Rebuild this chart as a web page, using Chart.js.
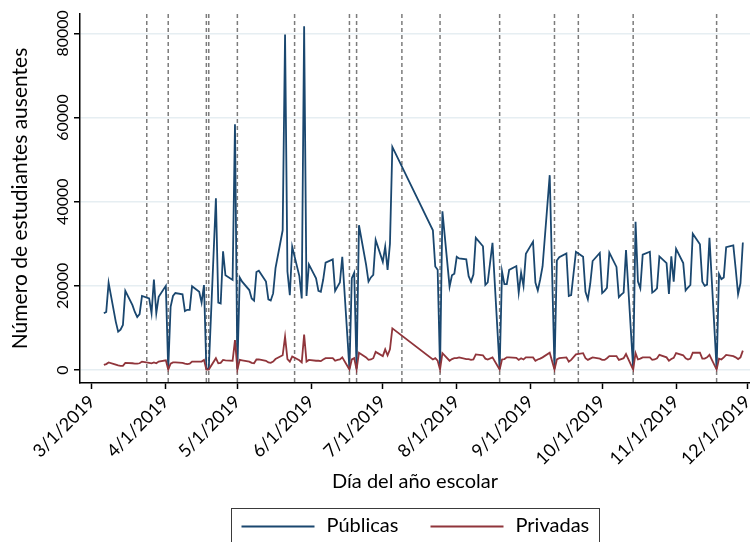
<!DOCTYPE html>
<html><head><meta charset="utf-8">
<script src="https://cdn.jsdelivr.net/npm/chart.js@4.4.1/dist/chart.umd.min.js"></script>
<style>html,body{margin:0;padding:0;background:#fff;}canvas{display:block;}</style>
</head><body>
<canvas id="c" width="750" height="542"></canvas>
<script>
const dates = [
'2019-03-06','2019-03-07','2019-03-08','2019-03-11','2019-03-12','2019-03-13','2019-03-14','2019-03-15',
'2019-03-18','2019-03-19','2019-03-20','2019-03-21','2019-03-22','2019-03-25','2019-03-26','2019-03-27','2019-03-28','2019-03-29',
'2019-04-01','2019-04-02','2019-04-03','2019-04-04','2019-04-05','2019-04-08','2019-04-09','2019-04-10','2019-04-11','2019-04-12',
'2019-04-15','2019-04-16','2019-04-17','2019-04-18','2019-04-19','2019-04-22','2019-04-23','2019-04-24','2019-04-25','2019-04-26',
'2019-04-29','2019-04-30','2019-05-01','2019-05-02','2019-05-03','2019-05-06','2019-05-07','2019-05-08','2019-05-09','2019-05-10',
'2019-05-13','2019-05-14','2019-05-15','2019-05-16','2019-05-17','2019-05-20','2019-05-21','2019-05-22','2019-05-23','2019-05-24',
'2019-05-27','2019-05-28','2019-05-29','2019-05-30','2019-05-31','2019-06-03','2019-06-04','2019-06-05','2019-06-06','2019-06-07',
'2019-06-10','2019-06-11','2019-06-12','2019-06-13','2019-06-14','2019-06-17','2019-06-18','2019-06-19','2019-06-20','2019-06-21',
'2019-06-24','2019-06-25','2019-06-26','2019-06-27','2019-06-28','2019-07-01','2019-07-02','2019-07-03','2019-07-04','2019-07-05',
'2019-07-22','2019-07-23','2019-07-24','2019-07-25','2019-07-26','2019-07-29','2019-07-30','2019-07-31','2019-08-01','2019-08-02',
'2019-08-05','2019-08-06','2019-08-07','2019-08-08','2019-08-09','2019-08-12','2019-08-13','2019-08-14','2019-08-16',
'2019-08-19','2019-08-20','2019-08-21','2019-08-22','2019-08-23','2019-08-26','2019-08-27','2019-08-28','2019-08-29','2019-08-30',
'2019-09-02','2019-09-03','2019-09-04','2019-09-05','2019-09-06','2019-09-09','2019-09-11','2019-09-12','2019-09-13',
'2019-09-16','2019-09-17','2019-09-18','2019-09-20','2019-09-23','2019-09-24','2019-09-25','2019-09-26','2019-09-27',
'2019-09-30','2019-10-01','2019-10-02','2019-10-03','2019-10-04','2019-10-07','2019-10-08','2019-10-09','2019-10-10','2019-10-11',
'2019-10-14','2019-10-15','2019-10-16','2019-10-17','2019-10-18','2019-10-21','2019-10-22','2019-10-23','2019-10-24','2019-10-25',
'2019-10-28','2019-10-29','2019-10-30','2019-10-31','2019-11-01','2019-11-04','2019-11-05','2019-11-06','2019-11-07','2019-11-08',
'2019-11-11','2019-11-12','2019-11-13','2019-11-14','2019-11-15','2019-11-18','2019-11-19','2019-11-20','2019-11-21','2019-11-22',
'2019-11-25','2019-11-26','2019-11-27','2019-11-28','2019-11-29'
];
const publicas = [
13500,13800,20700,11500,9100,9600,10700,18800,
15400,13800,12600,13300,17600,17000,13500,21500,13500,17400,
20000,200,15000,17600,18300,18000,14000,14300,14300,19900,
18600,16000,20200,300,300,40800,16000,15800,28200,22500,
21400,58400,200,22000,21000,19000,17000,16500,23300,23600,
21000,16800,16500,18200,24200,33200,79700,23400,17800,29300,
22300,17000,81700,17600,25100,21800,18800,18600,21500,25500,
26300,18800,19800,20800,26900,300,21800,23100,300,34400,
25000,21000,22000,22600,30900,25700,29300,23800,30000,53000,
33200,24600,23800,300,37700,19800,22500,22900,26900,26500,
26300,22300,21000,22700,31400,29400,20200,20800,30200,
300,23400,20400,20400,23800,24700,18400,23100,20000,27600,
30500,20800,18900,21500,24600,46300,300,26000,26800,
27700,17600,17800,28100,26900,18600,16800,20500,25900,
27800,18300,18800,19500,27900,24500,17300,17900,18400,28500,
300,35200,21000,19400,27400,28100,18400,18800,19400,27000,
25400,18100,27000,21000,28800,25400,18900,19600,20200,32400,
29900,21000,20000,20300,31400,300,22800,21600,22000,29200,
29600,24000,18000,20600,30300
];
const privadas = [
1200,1400,1800,1300,1100,1000,1000,1700,
1600,1500,1500,1600,2000,1700,1600,1800,1600,2000,
2300,100,1500,1800,1800,1700,1500,1400,1500,2000,
2000,2000,2400,100,100,2800,1600,1700,2400,2300,
2200,7100,100,2400,2300,2000,1700,1600,2500,2500,
2200,1800,1700,2000,2600,3500,7900,2600,2000,3200,
2300,1800,8400,2000,2400,2200,2200,2100,2500,2800,
2800,2200,2400,2500,3000,100,2500,2800,100,4100,
3000,2400,2500,2800,4300,3300,4900,3500,4900,9900,
2500,2800,2200,100,4000,2200,2600,2800,2800,3000,
2600,2600,2400,2500,3700,3500,2700,2500,3000,
100,2500,2600,3000,3000,2900,2400,2800,2500,3000,
3000,2200,2500,2700,3000,4100,100,2500,2800,
3000,2000,2400,3700,4000,2800,2400,2700,3000,
2700,2400,2400,2800,3300,3300,2400,2600,2800,3800,
100,4000,2500,2700,3000,3000,2400,2500,2800,3600,
3000,2200,2600,2900,4000,3500,2800,2500,2700,4100,
4100,2700,2700,3000,3600,100,2700,2500,3000,3600,
3300,3000,2600,3000,4600
];
const seriesNames = ['Públicas', 'Privadas'];
const seriesColors = ['#1a476f', '#90353b'];
const tickDates = ['2019-03-01','2019-04-01','2019-05-01','2019-06-01','2019-07-01','2019-08-01','2019-09-01','2019-10-01','2019-11-01','2019-12-01'];
const tickLabels = ['3/1/2019','4/1/2019','5/1/2019','6/1/2019','7/1/2019','8/1/2019','9/1/2019','10/1/2019','11/1/2019','12/1/2019'];
const markerDates = ['2019-03-24','2019-04-02','2019-04-18','2019-04-19','2019-05-01','2019-05-25','2019-06-17','2019-06-20','2019-07-09','2019-07-25','2019-08-19','2019-09-11','2019-09-21','2019-10-14','2019-11-18'];
const yTicks = [0, 20000, 40000, 60000, 80000];
const xRange = ['2019-02-24', '2019-12-02'];
const yRange = [-3090, 84600];
const xTitle = 'Día del año escolar';
const yTitle = 'Número de estudiantes ausentes';

const FONT = 'Lato';
function dayOf(s) {
  const [y, m, d] = s.split('-').map(Number);
  return (Date.UTC(y, m - 1, d) - Date.UTC(2019, 2, 1)) / 864e5;
}

const vlines = {
  id: 'vlines',
  beforeDatasetsDraw(chart) {
    const {ctx, chartArea: a, scales: {x}} = chart;
    ctx.save();
    ctx.strokeStyle = '#7c7c7c';
    ctx.lineWidth = 1.5;
    ctx.setLineDash([4, 3]);
    markerDates.forEach(d => {
      const px = x.getPixelForValue(dayOf(d));
      ctx.beginPath();
      ctx.moveTo(px, a.top);
      ctx.lineTo(px, a.bottom);
      ctx.stroke();
    });
    ctx.restore();
  }
};

const boxLegend = {
  id: 'boxLegend',
  afterDraw(chart) {
    const {ctx, chartArea: a} = chart;
    const cx = (a.left + a.right) / 2;
    const w = 368, top = 508.5;
    const left = Math.round(cx - w / 2) + 0.5;
    ctx.save();
    ctx.strokeStyle = '#3a3a3a';
    ctx.lineWidth = 1;
    ctx.strokeRect(left, top, w, 60);
    chart.data.datasets.forEach((ds, i) => {
      const x0 = left + 10 + i * 189;
      ctx.strokeStyle = ds.borderColor;
      ctx.lineWidth = 2;
      ctx.beginPath();
      ctx.moveTo(x0, 526.5);
      ctx.lineTo(x0 + 73, 526.5);
      ctx.stroke();
      ctx.fillStyle = '#000';
      ctx.font = '20px ' + FONT;
      ctx.textBaseline = 'middle';
      ctx.textAlign = 'left';
      ctx.fillText(ds.label, x0 + 85, 526);
    });
    ctx.restore();
  }
};

const datasets = [publicas, privadas].map((vals, i) => ({
  label: seriesNames[i],
  data: dates.map((d, j) => ({x: dayOf(d), y: vals[j]})),
  borderColor: seriesColors[i],
  backgroundColor: seriesColors[i],
  borderWidth: 1.8,
  pointRadius: 0,
  tension: 0,
  fill: false,
  order: 2 - i
}));

new Chart(document.getElementById('c'), {
  type: 'line',
  data: {datasets},
  plugins: [vlines, boxLegend],
  options: {
    responsive: false,
    animation: false,
    devicePixelRatio: 1,
    layout: {autoPadding: false, padding: {top: 14, left: 0, right: 0, bottom: 0}},
    plugins: {legend: {display: false}, tooltip: {enabled: false}},
    scales: {
      x: {
        type: 'linear',
        min: dayOf(xRange[0]),
        max: dayOf(xRange[1]),
        afterBuildTicks: s => { s.ticks = tickDates.map(d => ({value: dayOf(d)})); },
        afterFit: s => { s.height = 159; s.paddingLeft = 0; s.paddingRight = 0; },
        grid: {drawOnChartArea: false, drawTicks: true, tickLength: 6, tickColor: '#000', tickWidth: 1.5},
        border: {display: true, color: '#000', width: 1.5},
        ticks: {
          autoSkip: false, minRotation: 45, maxRotation: 45, padding: 2,
          color: '#000', font: {family: FONT, size: 18},
          callback: (v, i) => tickLabels[i]
        },
        title: {display: true, text: xTitle, color: '#000', font: {family: FONT, size: 20}, padding: {top: 0, bottom: 48}}
      },
      y: {
        type: 'linear',
        min: yRange[0],
        max: yRange[1],
        afterBuildTicks: s => { s.ticks = yTicks.map(v => ({value: v})); },
        afterFit: s => { s.width = 80; s.paddingTop = 0; s.paddingBottom = 0; },
        grid: {color: '#e6eef2', lineWidth: 1.5, drawTicks: true, tickLength: 6, tickColor: '#000', tickWidth: 1.5},
        border: {display: true, color: '#000', width: 1.5},
        ticks: {
          minRotation: 90, maxRotation: 90, crossAlign: 'center', padding: -12,
          color: '#000', font: {family: FONT, size: 16},
          callback: v => String(v)
        },
        title: {display: true, text: yTitle, color: '#000', font: {family: FONT, size: 21}, padding: {top: 8, bottom: 0}}
      }
    }
  }
});
</script>
</body></html>
